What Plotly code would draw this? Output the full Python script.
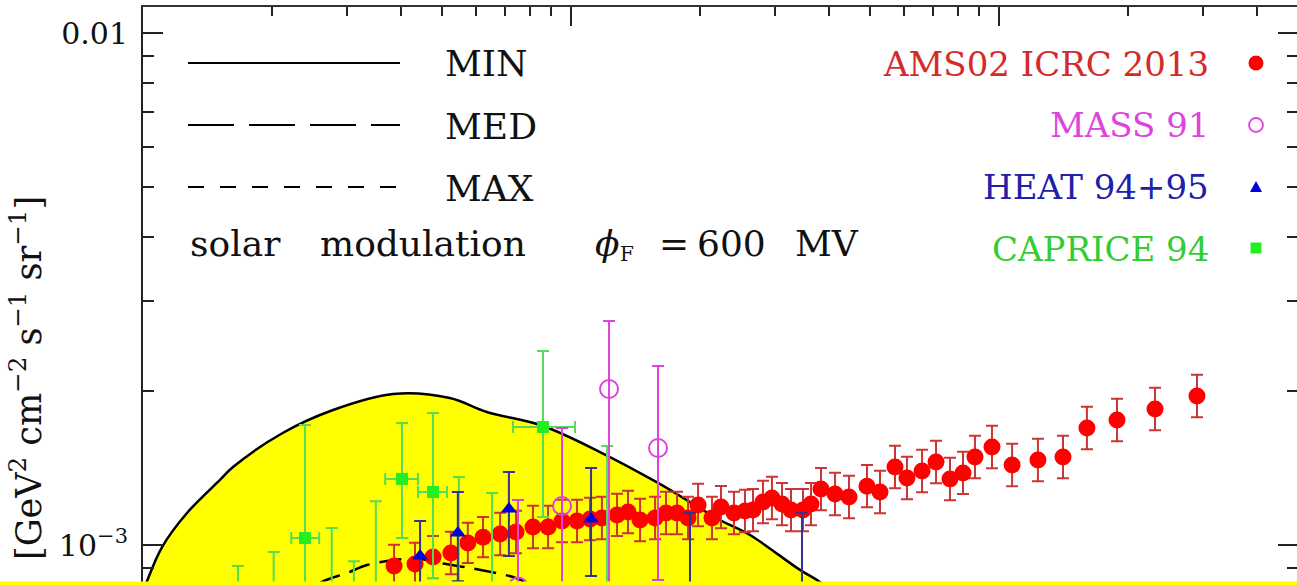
import plotly.graph_objects as go

# ---------------- data ----------------
# AMS-02 ICRC 2013  (E [GeV], E^3 flux [GeV^2 cm^-2 s^-1 sr^-1])
AMS_E = [3.86, 4.32, 4.76, 5.24, 5.74, 6.23, 6.83, 7.44, 8.15, 8.84, 9.53, 10.33,
         11.08, 11.81, 12.81, 13.59, 14.50, 15.72, 16.67, 17.69, 18.77, 19.81,
         21.35, 22.41, 24.03, 25.50, 26.62, 28.09, 29.48, 31.12, 32.66, 34.84,
         36.37, 38.38, 41.39, 44.62, 49.16, 52.72, 57.15, 60.95, 66.10, 71.27,
         76.83, 82.39, 87.88, 96.3, 107.3, 123.3, 141.1, 160.5, 188.7, 231.5, 290.1]
AMS_V = [9.10e-4, 9.18e-4, 9.47e-4, 9.65e-4, 1.009e-3, 1.036e-3, 1.051e-3, 1.060e-3,
         1.084e-3, 1.084e-3, 1.114e-3, 1.114e-3, 1.124e-3, 1.129e-3, 1.145e-3, 1.160e-3,
         1.119e-3, 1.129e-3, 1.155e-3, 1.155e-3, 1.129e-3, 1.197e-3, 1.129e-3, 1.186e-3,
         1.155e-3, 1.165e-3, 1.170e-3, 1.213e-3, 1.235e-3, 1.202e-3, 1.170e-3, 1.170e-3,
         1.202e-3, 1.286e-3, 1.258e-3, 1.241e-3, 1.303e-3, 1.269e-3, 1.420e-3, 1.352e-3,
         1.395e-3, 1.453e-3, 1.346e-3, 1.383e-3, 1.486e-3, 1.554e-3, 1.433e-3, 1.466e-3,
         1.486e-3, 1.692e-3, 1.754e-3, 1.843e-3, 1.954e-3]
AMS_REL_ERR = [0.10, 0.10, 0.10, 0.10, 0.095, 0.095, 0.10, 0.10, 0.10, 0.10, 0.10, 0.10,
               0.10, 0.10, 0.10, 0.10, 0.10, 0.10, 0.10, 0.10, 0.10, 0.10, 0.10, 0.10,
               0.10, 0.10, 0.10, 0.10, 0.10, 0.10, 0.10, 0.10, 0.10, 0.10, 0.10, 0.10,
               0.10, 0.10, 0.10, 0.10, 0.10, 0.10, 0.10, 0.10, 0.10, 0.10, 0.10, 0.10,
               0.10, 0.10, 0.10, 0.10, 0.10]

# MASS 91
MASS_E = [7.52, 9.53, 12.27, 15.97]
MASS_V = [8.3e-4, 1.192e-3, 2.017e-3, 1.547e-3]
MASS_HI = [1.224e-3, 1.692e-3, 2.739e-3, 2.237e-3]
MASS_LO = [5.5e-4, 6.5e-4, 7.0e-4, 8.54e-4]

# HEAT 94+95
HEAT_E = [4.44, 5.44, 7.16, 11.14, 18.97, 34.65]
HEAT_V = [9.52e-4, 1.055e-3, 1.176e-3, 1.124e-3, 7.0e-4, 6.5e-4]
HEAT_HI = [1.114e-3, 1.269e-3, 1.389e-3, 1.414e-3, 1.155e-3, 1.155e-3]
HEAT_LO = [8.0e-4, 8.5e-4, 9.52e-4, 8.70e-4, 4.5e-4, 4.0e-4]

# CAPRICE 94
CAP_E = [1.667, 2.02, 2.39, 2.76, 3.11, 3.50, 4.03, 4.76, 5.47, 6.54, 8.60, 12.14]
CAP_E_LO = [1.667, 2.02, 2.22, 2.76, 3.11, 3.50, 3.68, 4.39, 5.47, 6.54, 7.32, 12.14]
CAP_E_HI = [1.667, 2.02, 2.58, 2.76, 3.11, 3.50, 4.39, 5.13, 5.47, 6.54, 10.22, 12.14]
CAP_V = [5.5e-4, 6.0e-4, 1.032e-3, 6.5e-4, 6.0e-4, 8.0e-4, 1.346e-3, 1.269e-3,
         7.0e-4, 7.0e-4, 1.700e-3, 7.0e-4]
CAP_HI = [9.10e-4, 9.69e-4, 1.715e-3, 1.079e-3, 9.30e-4, 1.218e-3, 1.731e-3, 1.811e-3,
          1.358e-3, 1.263e-3, 2.393e-3, 1.561e-3]
CAP_LO = [4.0e-4, 4.0e-4, 6.0e-4, 4.5e-4, 4.0e-4, 5.5e-4, 1.032e-3, 8.62e-4,
          5.0e-4, 5.0e-4, 1.134e-3, 5.0e-4]

# model curves
MIN_E = [1.0, 1.02, 1.108, 1.267, 1.513, 1.623, 2.12, 2.78, 3.84, 5.21, 6.36, 8.60,
         11.69, 15.97, 18.97, 22.29, 26.19, 34.28, 38.18, 43.68, 60.0]
MIN_V = [8.1e-4, 8.47e-4, 9.91e-4, 1.155e-3, 1.340e-3, 1.420e-3, 1.655e-3, 1.835e-3,
         1.972e-3, 1.937e-3, 1.819e-3, 1.708e-3, 1.519e-3, 1.322e-3, 1.213e-3,
         1.119e-3, 1.046e-3, 8.94e-4, 8.47e-4, 7.81e-4, 6.0e-4]
MED_E = [1.78, 2.33, 2.59, 3.00, 3.34, 3.88, 4.44, 4.94, 5.81, 6.83, 7.32, 8.46, 9.95, 15.3]
MED_V = [6.24e-4, 7.81e-4, 8.43e-4, 8.82e-4, 9.14e-4, 9.35e-4, 9.39e-4, 9.22e-4,
         9.02e-4, 8.78e-4, 8.66e-4, 8.24e-4, 7.81e-4, 6.24e-4]
MAX_E = [1.0, 2.0, 5.0, 10.0, 20.0, 40.0, 60.0]
MAX_V = [2.0e-4, 3.5e-4, 4.5e-4, 4.2e-4, 3.2e-4, 2.0e-4, 1.2e-4]

X_MAJOR = [10, 100]
X_MINOR = [2, 3, 4, 5, 6, 7, 8, 9, 20, 30, 40, 50, 60, 70, 80, 90, 200, 300, 400, 500]
Y_MAJOR = [1e-3, 1e-2]
Y_MAJOR_TEXT = ["10<sup>\u22123</sup>", "0.01"]
Y_MINOR = [9e-4, 2e-3, 3e-3, 4e-3, 5e-3, 6e-3, 7e-3, 8e-3, 9e-3]

SERIF = "DejaVu Serif"

fig = go.Figure()

# yellow band between MIN and MAX
fig.add_trace(go.Scatter(x=MIN_E + MAX_E[::-1], y=MIN_V + MAX_V[::-1], fill="toself",
                         fillcolor="#ffff00", line=dict(width=0, shape="spline", smoothing=1.0),
                         mode="lines", hoverinfo="skip", showlegend=False))
fig.add_trace(go.Scatter(x=MIN_E, y=MIN_V, mode="lines",
                         line=dict(color="black", width=2.5, shape="spline", smoothing=1.0),
                         showlegend=False))
fig.add_trace(go.Scatter(x=MED_E, y=MED_V, mode="lines",
                         line=dict(color="black", width=2.5, dash="22px,10px", shape="spline"),
                         showlegend=False))
fig.add_trace(go.Scatter(x=MAX_E, y=MAX_V, mode="lines",
                         line=dict(color="black", width=2.5, dash="16px,16px", shape="spline"),
                         showlegend=False))

# AMS
ams_up = [v * r for v, r in zip(AMS_V, AMS_REL_ERR)]
ams_dn = [v * r * 0.91 for v, r in zip(AMS_V, AMS_REL_ERR)]
fig.add_trace(go.Scatter(x=AMS_E, y=AMS_V, mode="markers",
                         marker=dict(symbol="circle", size=17, color="#ff0000"),
                         error_y=dict(type="data", symmetric=False, array=ams_up, arrayminus=ams_dn,
                                      color="#cc3535", thickness=2, width=6),
                         showlegend=False))
# CAPRICE
fig.add_trace(go.Scatter(x=CAP_E, y=CAP_V, mode="markers",
                         marker=dict(symbol="square", size=12, color="#22ee22"),
                         error_y=dict(type="data", symmetric=False,
                                      array=[h - v for h, v in zip(CAP_HI, CAP_V)],
                                      arrayminus=[v - l for v, l in zip(CAP_V, CAP_LO)],
                                      color="#55dd55", thickness=2, width=6),
                         error_x=dict(type="data", symmetric=False,
                                      array=[h - e for h, e in zip(CAP_E_HI, CAP_E)],
                                      arrayminus=[e - l for e, l in zip(CAP_E, CAP_E_LO)],
                                      color="#55dd55", thickness=2, width=6),
                         showlegend=False))
# HEAT
fig.add_trace(go.Scatter(x=HEAT_E, y=HEAT_V, mode="markers",
                         marker=dict(symbol="triangle-up", size=14, color="#0000dd"),
                         error_y=dict(type="data", symmetric=False,
                                      array=[h - v for h, v in zip(HEAT_HI, HEAT_V)],
                                      arrayminus=[v - l for v, l in zip(HEAT_V, HEAT_LO)],
                                      color="#34348c", thickness=2, width=6),
                         showlegend=False))
# MASS
fig.add_trace(go.Scatter(x=MASS_E, y=MASS_V, mode="markers",
                         marker=dict(symbol="circle-open", size=18, color="#dd44dd",
                                     line=dict(width=2, color="#dd44dd")),
                         error_y=dict(type="data", symmetric=False,
                                      array=[h - v for h, v in zip(MASS_HI, MASS_V)],
                                      arrayminus=[v - l for v, l in zip(MASS_V, MASS_LO)],
                                      color="#dd44dd", thickness=2, width=6),
                         showlegend=False))
# helper trace so the right-hand tick axis is drawn
fig.add_trace(go.Scatter(x=AMS_E, y=AMS_V, yaxis="y2", mode="markers",
                         marker=dict(opacity=0), hoverinfo="skip", showlegend=False))

W, H = 1297, 585
L, T = 143, 7
PW, PH = W - L, H - T


def px(x):
    return (x - L) / PW


def py(y):
    return (H - y) / PH


shapes = []
annotations = []

# left legend (line styles)
for yy, dash, name in [(63, "solid", "MIN"), (125, "46px,15px", "MED"), (187, "16px,16px", "MAX")]:
    shapes.append(dict(type="line", xref="paper", yref="paper", x0=px(188), x1=px(400),
                       y0=py(yy), y1=py(yy), line=dict(color="black", width=2, dash=dash)))
    annotations.append(dict(text=name, xref="paper", yref="paper", x=px(443), y=py(yy + 1),
                            xanchor="left", yanchor="middle", showarrow=False,
                            font=dict(family=SERIF, size=36, color="#111111")))

# solar modulation text, pieces placed word by word
for word, xw in [("solar", 188), ("modulation", 318), ("<i>\u03d5</i>", 593), ("=", 657),
                 ("600", 695), ("MV", 793)]:
    annotations.append(dict(text=word, xref="paper", yref="paper", x=px(xw), y=py(244),
                            xanchor="left", yanchor="middle", showarrow=False,
                            font=dict(family=SERIF, size=36, color="#111111")))
annotations.append(dict(text="F", xref="paper", yref="paper", x=px(618), y=py(254),
                        xanchor="left", yanchor="middle", showarrow=False,
                        font=dict(family=SERIF, size=20, color="#111111")))

# right legend (data sets)
leg = [("AMS02 ICRC 2013", "#d42a2a", 64), ("MASS 91", "#dd44dd", 125),
       ("HEAT 94+95", "#2020a8", 187), ("CAPRICE 94", "#33cc33", 249)]
for name, col, yy in leg:
    annotations.append(dict(text=name, xref="paper", yref="paper", x=px(1211), y=py(yy),
                            xanchor="right", yanchor="middle", showarrow=False,
                            font=dict(family=SERIF, size=34, color=col)))
mx = px(1256)
shapes.append(dict(type="circle", xref="paper", yref="paper", xsizemode="pixel", ysizemode="pixel",
                   xanchor=mx, yanchor=py(63), x0=-7.5, x1=7.5, y0=-7.5, y1=7.5,
                   fillcolor="#ff0000", line=dict(width=0)))
shapes.append(dict(type="circle", xref="paper", yref="paper", xsizemode="pixel", ysizemode="pixel",
                   xanchor=mx, yanchor=py(125), x0=-7, x1=7, y0=-7, y1=7,
                   fillcolor="rgba(0,0,0,0)", line=dict(width=1.8, color="#dd44dd")))
shapes.append(dict(type="path", xref="paper", yref="paper", xsizemode="pixel", ysizemode="pixel",
                   xanchor=mx, yanchor=py(187), path="M -6,-5 L 6,-5 L 0,6 Z",
                   fillcolor="#0000dd", line=dict(width=0)))
shapes.append(dict(type="rect", xref="paper", yref="paper", xsizemode="pixel", ysizemode="pixel",
                   xanchor=mx, yanchor=py(248), x0=-5.5, x1=5.5, y0=-5.5, y1=5.5,
                   fillcolor="#22ee22", line=dict(width=0)))

# y-axis title (partly cut by the frame of the picture)
annotations.append(dict(text="[GeV<sup>2</sup> cm<sup>\u22122</sup> s<sup>\u22121</sup> sr<sup>\u22121</sup>]",
                        xref="paper", yref="paper", x=px(26), y=py(378), textangle=-90,
                        xanchor="center", yanchor="middle", showarrow=False,
                        font=dict(family=SERIF, size=35, color="#111111")))

# yellow strip along the bottom edge of the picture
shapes.append(dict(type="rect", xref="paper", yref="paper", x0=px(0), x1=px(W + 5),
                   y0=py(581.5), y1=py(H + 5), fillcolor="#ffff00", line=dict(width=0),
                   layer="above"))

fig.update_layout(
    width=W, height=H,
    margin=dict(l=L, r=0, t=T, b=0, autoexpand=False),
    paper_bgcolor="white", plot_bgcolor="white",
    showlegend=False,
    shapes=shapes, annotations=annotations,
    xaxis=dict(type="log", range=[0, 1 + (W - 571) / 428], side="top",
               showline=True, linecolor="#333333", linewidth=1.5, mirror=False,
               ticks="inside", tickvals=X_MAJOR, ticklen=19, tickwidth=2, tickcolor="#222222",
               showticklabels=False, showgrid=False, zeroline=False,
               minor=dict(tickvals=X_MINOR, ticks="inside", ticklen=9, tickwidth=1.5,
                          tickcolor="#222222", showgrid=False)),
    yaxis=dict(type="log", range=[-2 - (H - 33) / 512, -2 + (33 - T) / 512], side="left",
               showline=True, linecolor="#222222", linewidth=2, mirror=False,
               ticks="inside", tickvals=Y_MAJOR, ticktext=Y_MAJOR_TEXT, ticklen=20,
               tickwidth=2, tickcolor="#222222", ticklabelstandoff=7,
               tickfont=dict(family=SERIF, size=30, color="#111111"),
               showgrid=False, zeroline=False,
               minor=dict(tickvals=Y_MINOR, ticks="inside", ticklen=11, tickwidth=2,
                          tickcolor="#222222", showgrid=False)),
    yaxis2=dict(type="log", range=[-2 - (H - 33) / 512, -2 + (33 - T) / 512], overlaying="y",
                side="right", anchor="x", showline=False, ticks="inside", tickvals=Y_MAJOR,
                ticklen=19, tickwidth=2, tickcolor="#222222", showticklabels=False,
                showgrid=False, zeroline=False,
                minor=dict(tickvals=Y_MINOR, ticks="inside", ticklen=10, tickwidth=2,
                           tickcolor="#222222", showgrid=False)),
)

fig.write_html("out.html")
